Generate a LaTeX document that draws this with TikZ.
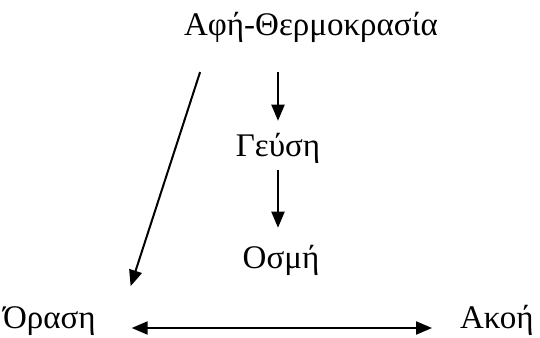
\documentclass[tikz,border=0pt]{standalone}
\usepackage{fontspec}
\setmainfont{Liberation Serif}
\usetikzlibrary{arrows.meta,positioning}

\begin{document}
\begin{tikzpicture}[
  x=1pt, y=1pt,
  every node/.style={inner sep=0pt, outer sep=0pt, font=\fontsize{33}{38}\selectfont},
  arrow/.style={-{Triangle[length=16pt,width=13pt]}, line width=2pt}
]
\useasboundingbox (0,0) rectangle (540,337);

\node[anchor=base] (afi) at (311,301) {Αφή-Θερμοκρασία};
\node[anchor=base] (geusi) at (278,180) {Γεύση};
\node[anchor=base] (osmi) at (281,68) {Οσμή};
\node[anchor=base west] (orasi) at (3,9) {Όραση};
\node[anchor=base west] (akoi) at (460,9) {Ακοή};

\draw[arrow] (afi.south -| geusi.north) ++(0,-29) -- ([yshift=13pt]geusi.north);
\draw[arrow] ([yshift=-6pt]geusi.south) -- ([yshift=18pt]osmi.north -| geusi.south);
\draw[arrow] ([xshift=16pt,yshift=-29pt]afi.south west) -- ([xshift=35pt,yshift=20pt]orasi.north east);
\draw[{Triangle[length=16pt,width=13pt]}-{Triangle[length=16pt,width=13pt]}, line width=2pt]
  ([xshift=36pt]orasi.base east) -- ([xshift=-28pt]akoi.base west);

\end{tikzpicture}
\end{document}
